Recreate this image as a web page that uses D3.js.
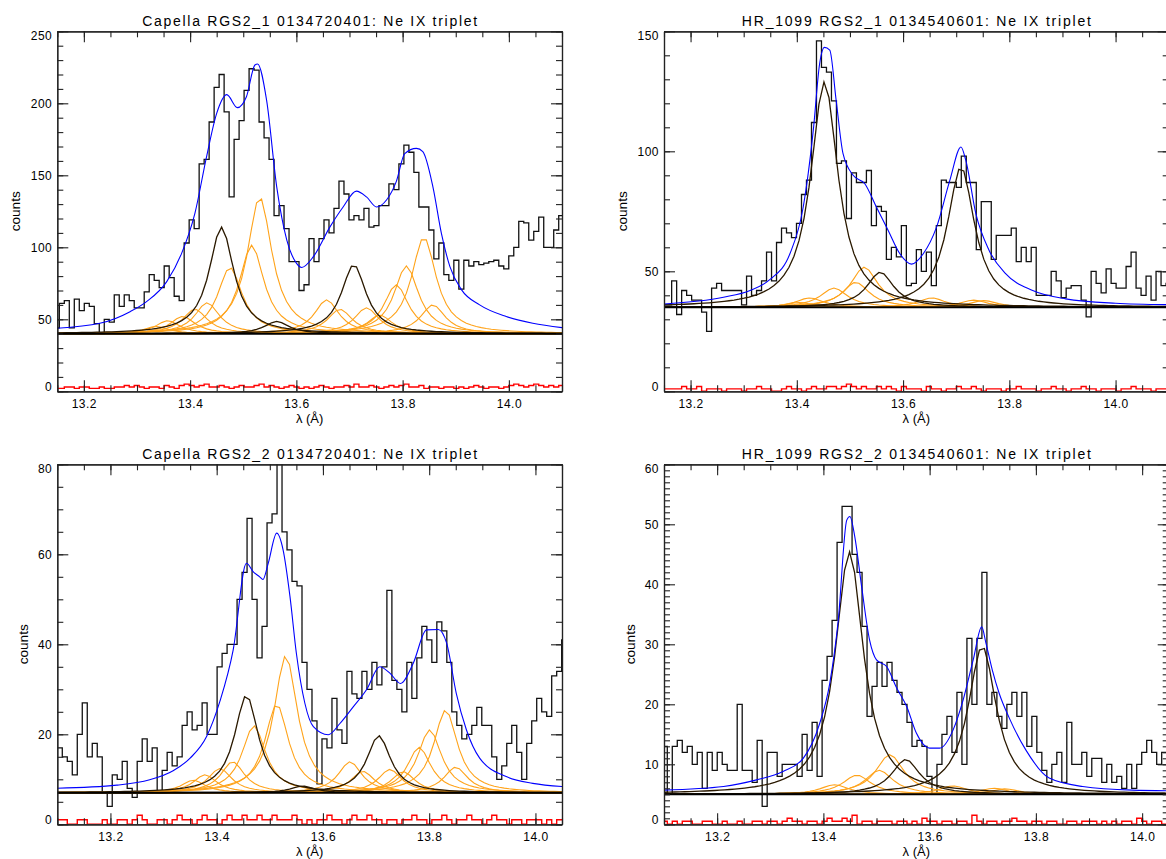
<!DOCTYPE html>
<html lang="en">
<head>
<meta charset="UTF-8">
<title>Ne IX triplet fits</title>
<script src="https://cdn.jsdelivr.net/npm/d3@7"></script>
<style>
  body { margin: 0; background: #fff; }
  svg text { font-family: "Liberation Sans", Arial, sans-serif; fill: #000; }
</style>
</head>
<body>
<svg id="chart" width="1166" height="859"></svg>
<script>
// ---- data ----
const titles = [
  "Capella RGS2_1 0134720401: Ne IX triplet",
  "HR_1099 RGS2_1 0134540601: Ne IX triplet",
  "Capella RGS2_2 0134720401: Ne IX triplet",
  "HR_1099 RGS2_2 0134540601: Ne IX triplet"
];
const xDomains = [[13.15, 14.1], [13.15, 14.1], [13.1, 14.05], [13.1, 14.05]];
const yMaxes = [250, 150, 80, 60];
const yMajors = [50, 50, 20, 10];
const yMinors = [10, 10, 5, 1];
const xMajorTicks = [13.2, 13.4, 13.6, 13.8, 14.0];

const binWidth = 0.0094;                        // Angstrom per channel
const histStart = [13.1444, 13.1456, 13.1, 13.0968];
const continuum = [40, 35, 7, 5];
const lineGamma = [0.028, 0.031, 0.027, 0.032]; // half width of the line profile

const countsCapella1 = [44,61,63,44,64,56,61,59,47,40, 50,48,67,59,67,63,58,58,69,81,
  77,72,87,79,66,63,103,119,113,158, 161,187,211,220,194,135,175,188,209,224,
  223,187,176,161,122,129,113,90,90,70, 74,106,90,106,119,110,127,146,137,119,
  122,119,127,114,115,129,129,144,140,158, 171,166,152,128,128,112,92,103,81,77,
  91,71,91,87,90,88,89,90,91,87, 85,94,100,118,117,105,111,121,100,100, 112,122];
const countsHR1 = [36,36,46,32,42,40,38,38,33,25, 43,45,42,42,42,42,36,48,40,42,
  46,58,46,62,68,66,64,70,82,88, 112,146,135,133,121,95,96,72,91,87,
  87,92,69,77,75,55,60,56,69,44, 45,59,50,58,44,69,88,87,87,85,
  98,87,87,59,79,79,55,65,65,65, 68,54,60,54,60,40,40,40,50,46,
  39,43,44,44,38,31,50,45,41,51, 45,43,43,52,58,43,40,48,38,50, 44,45];
const countsCapella2 = [17,15,14,11,20,27,15,18,15,7, 4,11,10,14,8,6,14,19,14,17,
  7,12,16,13,15,22,25,21,22,27, 20,20,35,38,40,40,50,56,68,50,
  37,44,67,69,85,65,61,54,53,36, 30,23,9,19,17,28,21,18,34,29,
  28,34,30,36,31,35,52,32,30,25, 36,28,37,44,41,36,45,43,36,25,
  22,19,20,22,26,22,22,15,10,13, 18,22,16,10,18,23,28,25,24,33, 34,41];
const countsHR2 = [13,5,13,14,12,13,10,12,6,12, 9,12,10,9,9,20,9,9,7,14,
  3,12,12,8,10,10,10,8,15,9, 17,8,24,28,34,47,53,53,45,42,
  33,18,23,27,23,27,24,22,20,17, 13,14,13,8,5,10,15,18,12,22,
  10,31,20,31,42,20,22,18,16,20, 22,18,22,13,18,12,9,7,10,12,
  7,17,10,10,12,8,11,11,7,10, 7,8,6,10,6,10,12,14,12,10, 12,12];

const residCapella1 = [2,2,3,3,2,3,3,2,2,3, 2,2,3,3,4,3,4,3,2,3, 3,2,4,3,2,4,5,4,3,4,
  5,3,3,4,3,2,3,4,3,3, 4,5,3,4,3,2,3,4,3,2, 3,2,3,4,3,2,3,3,4,3,
  5,3,3,4,3,2,3,4,3,4, 5,3,3,4,2,3,3,2,3,3, 2,3,2,3,4,3,2,3,3,2,
  3,4,5,4,3,4,5,4,3,4, 3,4];
const residHR1 = [1,1,1,1,2,1,1,2,0,1, 1,1,0,1,1,1,0,1,1,2, 1,1,0,0,1,2,1,1,0,1,
  2,1,1,2,2,1,2,3,2,1, 2,1,1,2,1,2,1,0,2,1, 1,1,0,2,1,1,0,1,1,2,
  1,1,2,1,0,1,1,1,0,1, 1,2,1,1,1,0,1,1,2,1, 1,0,1,1,2,1,1,0,1,1,
  1,0,1,1,2,1,1,1,0,1, 1,1];
const residCapella2 = [1,1,0,0,1,1,0,0,0,1, 0,0,1,1,0,1,2,1,0,0, 1,1,0,1,2,1,1,0,1,2,
  1,1,0,1,2,1,1,2,1,1, 2,1,1,2,1,1,1,2,1,0, 1,0,1,1,2,1,1,0,1,2,
  1,1,2,1,1,0,1,1,0,1, 1,2,1,1,0,1,1,2,1,0, 1,1,2,1,1,0,1,2,1,1,
  0,1,1,0,1,1,1,0,1,0, 1,1];
const residHR2 = [0.5,0,0.5,0,0.5,0.5,0,0,0.5,0.5, 0,0,0.5,0,0,0.5,0,0,0.5,0.5, 0,0.5,0.5,0,0.5,1,0.5,0.5,0,0.5,
  0.5,0,0.5,1,0.5,0.5,1,0.5,1.5,0, 0.5,0.5,0,0.5,0.5,0.5,0,0.5,0.5,0, 0.5,0,1,0.5,0.5,0,0.5,0.5,0,0.5,
  0.5,0,1.5,0.5,0,0.5,0.5,0,0.5,0.5, 1,0.5,0.5,0,0.5,0.5,0,0.5,0.5,0, 0,0.5,0.5,0,0.5,0.5,0.5,0,0.5,0,
  0.5,0,0.5,0.5,0,1,0.5,0,0.5,0.5, 0,0.5];

// line components: [centre (A), peak above continuum (counts)]
const blackCapella1 = [[13.459, 74], [13.563, 8.5], [13.708, 48]];
const orangeCapella1 = [[13.336, 5], [13.358, 9], [13.386, 12], [13.409, 17], [13.432, 21.5],
  [13.475, 46], [13.516, 61.5], [13.531, 95], [13.657, 23.5], [13.682, 17], [13.732, 18],
  [13.757, 13], [13.788, 34], [13.807, 47], [13.840, 67], [13.857, 20]];
const blackHR1 = [[13.452, 94], [13.557, 14.6], [13.709, 58.5]];
const orangeHR1 = [[13.405, 2], [13.424, 3.9], [13.470, 8], [13.511, 10.4], [13.527, 16.7],
  [13.654, 3.9], [13.733, 3], [13.752, 2.8]];
const blackCapella2 = [[13.456, 21.7], [13.562, 1.5], [13.705, 12.7]];
const orangeCapella2 = [[13.356, 2.8], [13.378, 4], [13.406, 5.4], [13.430, 6.9], [13.470, 14.9],
  [13.513, 19.7], [13.530, 30.5], [13.651, 6.9], [13.675, 4.8], [13.726, 5.2], [13.751, 4.7],
  [13.781, 10.1], [13.801, 14], [13.831, 18.4], [13.850, 5.7]];
const blackHR2 = [[13.449, 40.4], [13.555, 5.8], [13.699, 24.7]];
const orangeHR2 = [[13.421, 1.6], [13.463, 3.2], [13.505, 4], [13.525, 6.6], [13.644, 1.4],
  [13.721, 1], [13.742, 0.9]];

// total model (blue), [wavelength, counts]
const modelCapella1 = [[13.15,43.8],[13.23,47.2],[13.287,55.3],[13.318,62.3],[13.356,76.2],
  [13.384,95.8],[13.409,123.6],[13.431,163],[13.45,193],[13.469,206],[13.489,197],[13.506,204.6],
  [13.522,226.6],[13.527,227.3],[13.544,202],[13.563,142],[13.582,105],[13.6,89],[13.61,86],
  [13.632,93.5],[13.663,114],[13.688,128],[13.713,139],[13.732,135],[13.751,128],[13.77,133],
  [13.788,145.6],[13.804,165],[13.826,168.7],[13.838,166.4],[13.857,142],[13.873,109.7],
  [13.889,86.6],[13.911,70.4],[13.945,60],[13.995,51.9],[14.045,47.2],[14.1,44.2]];
const modelHR1 = [[13.15,36.4],[13.262,39.2],[13.312,42],[13.349,46.5],[13.387,57.3],
  [13.412,76.7],[13.431,108.7],[13.443,136.6],[13.452,143.3],[13.462,142.2],[13.474,121.3],
  [13.487,99],[13.506,90],[13.528,86.5],[13.55,76.7],[13.572,67],[13.594,57.3],[13.616,53],
  [13.638,57.3],[13.663,68.4],[13.688,87.9],[13.709,101.8],[13.718,96.3],[13.737,74],
  [13.762,58.7],[13.793,49],[13.844,42],[13.906,38.5],[14.0,36.7],[14.1,36.1]];
const modelCapella2 = [[13.1,8],[13.212,8.7],[13.274,9.9],[13.318,11.9],[13.35,14.7],
  [13.381,19.5],[13.406,27.3],[13.431,38.7],[13.456,58],[13.469,56.1],[13.481,55],[13.487,54.4],
  [13.497,58],[13.513,64.7],[13.525,61],[13.538,50.6],[13.55,38],[13.566,26.9],[13.582,21.7],
  [13.61,19.9],[13.632,22.4],[13.657,26.1],[13.682,29.9],[13.707,35],[13.726,33.6],[13.746,31.3],
  [13.77,35.8],[13.795,43.2],[13.817,43.3],[13.833,40.2],[13.851,29.1],[13.87,21],[13.895,14.7],
  [13.945,10.6],[13.995,9.1],[14.05,8.4]];
const modelHR2 = [[13.1,5.7],[13.212,6.3],[13.274,7.4],[13.324,8.8],[13.362,11],[13.393,16.8],
  [13.412,23.5],[13.428,34],[13.444,50.7],[13.45,51.3],[13.459,48],[13.472,39.6],[13.487,30.7],
  [13.5,27.4],[13.519,26.3],[13.538,22.7],[13.557,19.6],[13.575,15.2],[13.6,12.7],[13.619,12.7],
  [13.644,15.7],[13.663,20.7],[13.682,27.4],[13.698,32.9],[13.706,30.2],[13.718,25.7],
  [13.731,21.8],[13.75,17.7],[13.781,12.4],[13.825,7.7],[13.888,6.3],[13.982,5.7],[14.05,5.6]];

const panels = [
  {counts: countsCapella1, resid: residCapella1, black: blackCapella1, orange: orangeCapella1, model: modelCapella1},
  {counts: countsHR1, resid: residHR1, black: blackHR1, orange: orangeHR1, model: modelHR1},
  {counts: countsCapella2, resid: residCapella2, black: blackCapella2, orange: orangeCapella2, model: modelCapella2},
  {counts: countsHR2, resid: residHR2, black: blackHR2, orange: orangeHR2, model: modelHR2}
];

// ---- layout ----
const boxes = [
  {x0: 57.3, x1: 562, y0: 31.3, y1: 391.3},
  {x0: 664, x1: 1168.7, y0: 31.3, y1: 391.3},
  {x0: 57.3, x1: 562, y0: 464.3, y1: 824.3},
  {x0: 664, x1: 1168.7, y0: 464.3, y1: 824.3}
];
const titleLen = [335, 349, 335, 349];
const countsOffset = [37.3, 37.3, 29, 29];

const svg = d3.select("#chart");
const axisColor = "#222";

function lorentz(l, c, a, g) {
  const u = (l - c) / g;
  return a / (1 + u * u);
}

function styleAxis(g) {
  g.attr("font-family", "Liberation Sans, Arial, sans-serif").attr("font-size", 12);
  g.select(".domain").attr("stroke", axisColor).attr("stroke-width", 1.2);
  g.selectAll(".tick line").attr("stroke", axisColor).attr("stroke-width", 1.1);
  g.selectAll(".tick text").attr("letter-spacing", 0.5);
  return g;
}

panels.forEach((p, k) => {
  const b = boxes[k];
  const x = d3.scaleLinear().domain(xDomains[k]).range([b.x0, b.x1]);
  const y = d3.scaleLinear().domain([0, yMaxes[k]]).range([b.y1, b.y0]);
  const cont = continuum[k], gam = lineGamma[k];

  svg.append("clipPath").attr("id", "clip" + k)
    .append("rect").attr("x", b.x0).attr("y", b.y0)
    .attr("width", b.x1 - b.x0).attr("height", b.y1 - b.y0);
  const plot = svg.append("g").attr("clip-path", `url(#clip${k})`);

  const n = p.counts.length;
  const edges = d3.range(n + 1).map(i => histStart[k] + i * binWidth);
  const centres = d3.range(-1, n + 1).map(i => histStart[k] + (i + 0.5) * binWidth);

  const step = d3.line().x(d => x(d[0])).y(d => y(d[1])).curve(d3.curveStepAfter);
  const poly = d3.line().x(d => x(d[0])).y(d => y(d[1]));
  const smooth = d3.line().x(d => x(d[0])).y(d => y(d[1])).curve(d3.curveMonotoneX);

  // data histogram
  plot.append("path")
    .attr("d", step(edges.map((e, i) => [e, p.counts[Math.min(i, n - 1)]])))
    .attr("fill", "none").attr("stroke", "#111").attr("stroke-width", 1.3);

  // line components
  const compPath = c => poly(centres.map(l => [l, cont + lorentz(l, c[0], c[1], gam)]));
  plot.append("g").selectAll("path").data(p.orange).join("path")
    .attr("d", compPath)
    .attr("fill", "none").attr("stroke", "#ffa31a").attr("stroke-width", 1.1);
  plot.append("g").selectAll("path").data(p.black).join("path")
    .attr("d", compPath)
    .attr("fill", "none").attr("stroke", "#2a1900").attr("stroke-width", 1.3);

  // continuum
  plot.append("path")
    .attr("d", poly([[xDomains[k][0] - 0.05, cont], [xDomains[k][1] + 0.05, cont]]))
    .attr("stroke", "#000").attr("stroke-width", 2);

  // total model
  plot.append("path")
    .attr("d", smooth(p.model))
    .attr("fill", "none").attr("stroke", "#0000ff").attr("stroke-width", 1.1);

  // residual histogram
  const nr = p.resid.length;
  plot.append("path")
    .attr("d", step(d3.range(nr + 1).map(i => [histStart[k] + i * binWidth, p.resid[Math.min(i, nr - 1)]])))
    .attr("fill", "none").attr("stroke", "#ff0000").attr("stroke-width", 1.4);

  // axes: ticks inward on all four sides
  const [d0, d1] = xDomains[k];
  const xMinor = d3.range(0, 40).map(i => 13.0 + i * 0.05).filter(v => v >= d0 - 1e-6 && v <= d1 + 1e-6);
  const yMajor = d3.range(0, yMaxes[k] + 1e-6, yMajors[k]);
  const yMinor = d3.range(0, yMaxes[k] + 1e-6, yMinors[k]);

  styleAxis(svg.append("g").attr("transform", `translate(0,${b.y1})`)
    .call(d3.axisBottom(x).tickValues(xMinor).tickSizeInner(-6).tickSizeOuter(0).tickFormat("")));
  styleAxis(svg.append("g").attr("transform", `translate(0,${b.y1})`)
    .call(d3.axisBottom(x).tickValues(xMajorTicks).tickSizeInner(-11).tickSizeOuter(0)
      .tickPadding(8).tickFormat(d3.format(".1f"))));
  styleAxis(svg.append("g").attr("transform", `translate(0,${b.y0})`)
    .call(d3.axisTop(x).tickValues(xMinor).tickSizeInner(-6).tickSizeOuter(0).tickFormat("")));
  styleAxis(svg.append("g").attr("transform", `translate(0,${b.y0})`)
    .call(d3.axisTop(x).tickValues(xMajorTicks).tickSizeInner(-11).tickSizeOuter(0).tickFormat("")));

  styleAxis(svg.append("g").attr("transform", `translate(${b.x0},0)`)
    .call(d3.axisLeft(y).tickValues(yMinor).tickSizeInner(-6).tickSizeOuter(0).tickFormat("")));
  const yl = styleAxis(svg.append("g").attr("transform", `translate(${b.x0},0)`)
    .call(d3.axisLeft(y).tickValues(yMajor).tickSizeInner(-11).tickSizeOuter(0)
      .tickPadding(5).tickFormat(d3.format("d"))));
  yl.selectAll(".tick text")
    .attr("dy", d => d === yMaxes[k] ? "0.68em" : d === 0 ? "-0.05em" : "0.32em");
  styleAxis(svg.append("g").attr("transform", `translate(${b.x1},0)`)
    .call(d3.axisRight(y).tickValues(yMinor).tickSizeInner(-6).tickSizeOuter(0).tickFormat("")));
  styleAxis(svg.append("g").attr("transform", `translate(${b.x1},0)`)
    .call(d3.axisRight(y).tickValues(yMajor).tickSizeInner(-11).tickSizeOuter(0).tickFormat("")));

  // titles and axis labels
  svg.append("text")
    .attr("x", (b.x0 + b.x1) / 2).attr("y", b.y0 - 5.5)
    .attr("text-anchor", "middle").attr("font-size", 14)
    .attr("textLength", titleLen[k]).attr("lengthAdjust", "spacing")
    .text(titles[k]);
  svg.append("text")
    .attr("transform", `translate(${b.x0 - countsOffset[k]},${(b.y0 + b.y1) / 2}) rotate(-90)`)
    .attr("text-anchor", "middle").attr("font-size", 13)
    .attr("textLength", 40).attr("lengthAdjust", "spacingAndGlyphs")
    .text("counts");
  svg.append("text")
    .attr("x", (b.x0 + b.x1) / 2).attr("y", b.y1 + 32)
    .attr("text-anchor", "middle").attr("font-size", 13)
    .text("λ (Å)");
});
</script>
</body>
</html>
